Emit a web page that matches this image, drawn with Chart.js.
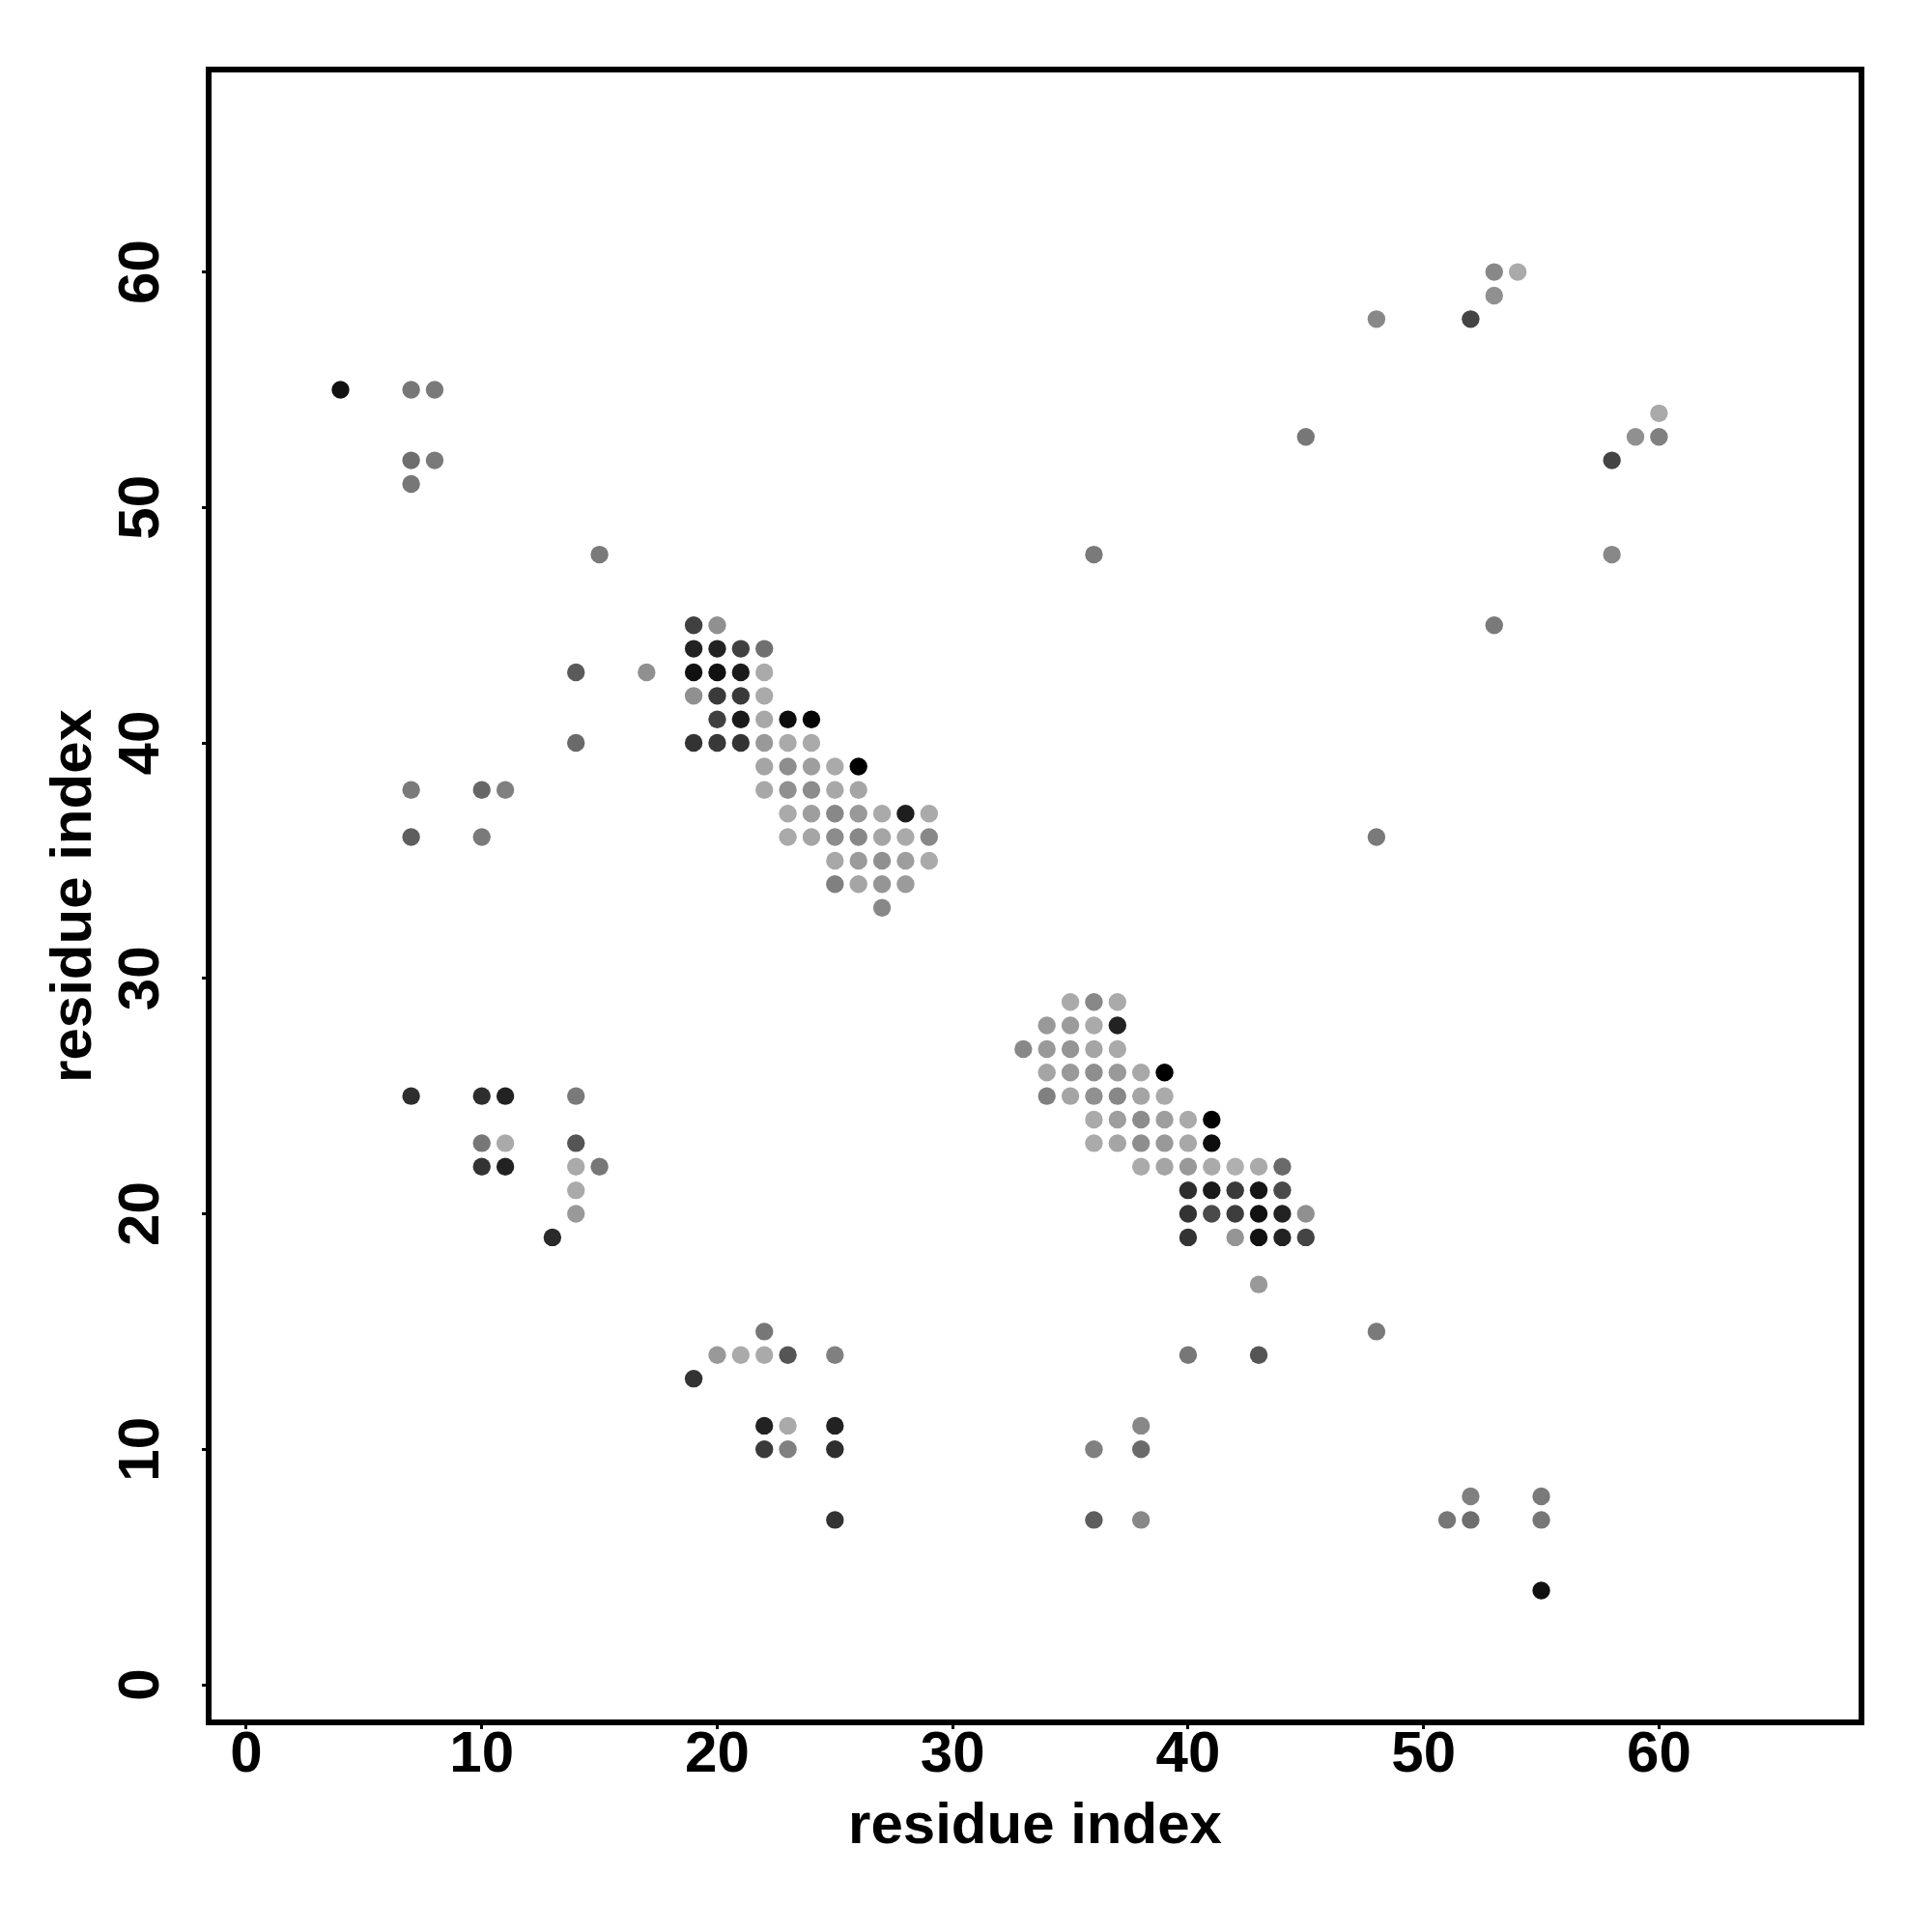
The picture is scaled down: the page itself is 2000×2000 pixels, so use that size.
<!DOCTYPE html>
<html>
<head>
<meta charset="utf-8">
<title>residue contact map</title>
<script src="https://cdn.jsdelivr.net/npm/chart.js@4.4.1/dist/chart.umd.min.js"></script>
<style>
  html, body { margin: 0; padding: 0; background: #fff; }
  #wrap { width: 2000px; height: 2000px; }
</style>
</head>
<body>
<div id="wrap"><canvas id="contactMap" width="2000" height="2000"></canvas></div>
<script>
// --- DATA ---
// residue pairs (i, j) and grey level of each contact (0 = black, 255 = white)
const residueI = [
    4, 7, 8, 7, 8, 7, 15, 14, 14, 7, 10, 11, 7, 10,
    19, 20,
    19, 20, 21, 22,
    17, 19, 20, 21, 22,
    19, 20, 21, 22,
    20, 21, 22, 23, 24,
    19, 20, 21, 22, 23, 24,
    22, 23, 24, 25, 26,
    22, 23, 24, 25, 26,
    23, 24, 25, 26, 27, 28, 29,
    23, 24, 25, 26, 27, 28, 29,
    25, 26, 27, 28, 29,
    25, 26, 27, 28,
    27,
    36, 48,
    7, 10, 11, 14,
    10, 11, 14,
    10, 11, 14, 15,
    14, 14, 13,
    35, 36, 37,
    34, 35, 36, 37,
    33, 34, 35, 36, 37,
    34, 35, 36, 37, 38, 39,
    34, 35, 36, 37, 38, 39,
    36, 37, 38, 39, 40, 41,
    36, 37, 38, 39, 40, 41,
    38, 39, 40, 41, 42, 43, 44,
    40, 41, 42, 43, 44,
    40, 41, 42, 43, 44, 45,
    40, 42, 43, 44, 45,
    43,
    22, 20, 21, 22, 23, 25, 19,
    22, 23, 25, 22, 23, 25, 25,
    36, 38, 38, 36, 38,
    40, 43, 48,
    51, 52, 52, 55, 55, 55,
    53, 54, 53, 48, 52, 45, 60, 59, 60, 58, 58, 53
];
const residueJ = [
    55, 55, 55, 52, 52, 51, 48, 43, 40, 38, 38, 38, 36, 36,
    45, 45,
    44, 44, 44, 44,
    43, 43, 43, 43, 43,
    42, 42, 42, 42,
    41, 41, 41, 41, 41,
    40, 40, 40, 40, 40, 40,
    39, 39, 39, 39, 39,
    38, 38, 38, 38, 38,
    37, 37, 37, 37, 37, 37, 37,
    36, 36, 36, 36, 36, 36, 36,
    35, 35, 35, 35, 35,
    34, 34, 34, 34,
    33,
    48, 36,
    25, 25, 25, 25,
    23, 23, 23,
    22, 22, 22, 22,
    21, 20, 19,
    29, 29, 29,
    28, 28, 28, 28,
    27, 27, 27, 27, 27,
    26, 26, 26, 26, 26, 26,
    25, 25, 25, 25, 25, 25,
    24, 24, 24, 24, 24, 24,
    23, 23, 23, 23, 23, 23,
    22, 22, 22, 22, 22, 22, 22,
    21, 21, 21, 21, 21,
    20, 20, 20, 20, 20, 20,
    19, 19, 19, 19, 19,
    17,
    15, 14, 14, 14, 14, 14, 13,
    11, 11, 11, 10, 10, 10, 7,
    10, 11, 10, 7, 7,
    14, 14, 15,
    7, 7, 8, 8, 7, 4,
    60, 60, 59, 58, 58, 53, 54, 53, 53, 52, 48, 45
];
const contactGrey = [
    17, 119, 122, 110, 122, 119, 122, 90, 106, 122, 102, 128, 94, 122,
    64, 144,
    34, 34, 64, 112,
    144, 17, 17, 26, 170,
    144, 58, 58, 170,
    64, 26, 168, 13, 5,
    51, 56, 51, 153, 170, 170,
    165, 142, 158, 170, 0,
    168, 144, 140, 168, 165,
    170, 158, 136, 153, 170, 30, 170,
    170, 165, 140, 136, 165, 170, 136,
    168, 155, 144, 158, 170,
    128, 165, 149, 155,
    136,
    122, 122,
    46, 46, 34, 122,
    119, 170, 85,
    51, 34, 170, 119,
    170, 153, 42,
    170, 136, 170,
    153, 155, 170, 34,
    136, 153, 149, 165, 170,
    165, 153, 142, 153, 168, 0,
    128, 165, 144, 136, 165, 170,
    170, 158, 140, 158, 170, 0,
    170, 165, 142, 153, 168, 13,
    170, 165, 153, 170, 176, 170, 106,
    46, 26, 58, 21, 74,
    51, 74, 61, 17, 34, 144,
    51, 149, 17, 34, 68,
    153,
    119, 153, 170, 170, 85, 128, 51,
    34, 170, 34, 58, 128, 46, 51,
    128, 136, 106, 94, 136,
    119, 85, 122,
    119, 110, 128, 122, 119, 17,
    136, 170, 144, 136, 68, 119, 170, 144, 128, 68, 136, 122
];
const axisTicks = [0, 10, 20, 30, 40, 50, 60];
const axisMin = -1.6;
const axisMax = 68.6;
const axisTitle = 'residue index';

// --- LAYOUT ---
const FONT_FAMILY = "'Liberation Sans', Arial, Helvetica, sans-serif";
const PLOT = { left: 216, top: 72, right: 1927, bottom: 1783 };
const CANVAS_SIZE = 2000;

const points = residueI.map((x, i) => ({ x: x, y: residueJ[i] }));
const pointColors = contactGrey.map(g => `rgb(${g},${g},${g})`);

// frame round the plotting region
const frameBox = {
    id: 'frameBox',
    afterDraw(chart) {
        const { ctx, chartArea } = chart;
        ctx.save();
        ctx.strokeStyle = '#000';
        ctx.lineWidth = 6;
        ctx.strokeRect(chartArea.left, chartArea.top,
            chartArea.right - chartArea.left, chartArea.bottom - chartArea.top);
        ctx.restore();
    }
};

function fixedTicks(scale) {
    scale.ticks = axisTicks.map(v => ({ value: v }));
}

const tickGrid = {
    display: true,
    drawOnChartArea: false,
    drawTicks: true,
    tickLength: 7,
    tickWidth: 3,
    tickColor: '#000'
};

new Chart(document.getElementById('contactMap'), {
    type: 'scatter',
    data: {
        datasets: [{
            data: points,
            pointRadius: 9.2,
            pointHoverRadius: 9.2,
            pointBorderWidth: 0,
            pointBackgroundColor: pointColors,
            pointBorderColor: pointColors
        }]
    },
    options: {
        responsive: false,
        animation: false,
        events: [],
        layout: {
            padding: { left: 0, top: PLOT.top, right: CANVAS_SIZE - PLOT.right, bottom: 0 }
        },
        plugins: {
            legend: { display: false },
            tooltip: { enabled: false }
        },
        scales: {
            x: {
                type: 'linear',
                position: 'bottom',
                min: axisMin,
                max: axisMax,
                afterBuildTicks: fixedTicks,
                afterFit: (scale) => { scale.height = CANVAS_SIZE - PLOT.bottom; },
                grid: tickGrid,
                border: { display: false },
                ticks: {
                    color: '#000',
                    padding: 0,
                    maxRotation: 0,
                    autoSkip: false,
                    font: { family: FONT_FAMILY, size: 60, weight: 'bold', lineHeight: 0.9 }
                },
                title: {
                    display: true,
                    text: axisTitle,
                    color: '#000',
                    padding: { top: 0, bottom: 73 },
                    font: { family: FONT_FAMILY, size: 60, weight: 'bold', lineHeight: 1.2 }
                }
            },
            y: {
                type: 'linear',
                position: 'left',
                min: axisMin,
                max: axisMax,
                afterBuildTicks: fixedTicks,
                afterFit: (scale) => { scale.width = PLOT.left; },
                grid: tickGrid,
                border: { display: false },
                ticks: {
                    color: '#000',
                    padding: 28,
                    minRotation: 90,
                    maxRotation: 90,
                    crossAlign: 'center',
                    autoSkip: false,
                    font: { family: FONT_FAMILY, size: 60, weight: 'bold', lineHeight: 0.9 }
                },
                title: {
                    display: true,
                    text: axisTitle,
                    color: '#000',
                    padding: { top: 41, bottom: 0 },
                    font: { family: FONT_FAMILY, size: 60, weight: 'bold', lineHeight: 1.2 }
                }
            }
        }
    },
    plugins: [frameBox]
});
</script>
</body>
</html>
